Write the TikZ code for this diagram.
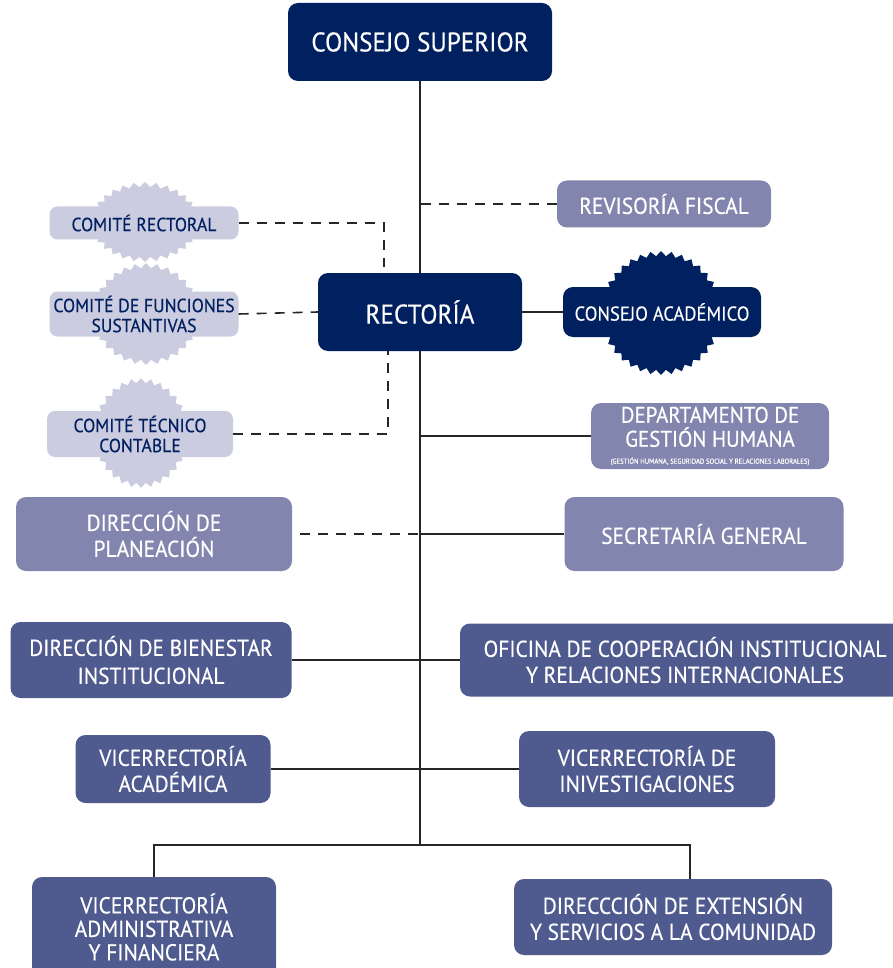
\documentclass[tikz,border=0pt]{standalone}
\usepackage{fontspec}
\setmainfont{PT Sans}[FakeStretch=0.93, FakeBold=0.35]
\usetikzlibrary{shapes.symbols,positioning,calc}

\definecolor{unavy}{RGB}{0,32,96}
\definecolor{ulight}{RGB}{204,204,224}
\definecolor{umid}{RGB}{130,134,174}
\definecolor{udark}{RGB}{79,90,143}

\tikzset{
    orgbox/.style={rounded corners=10pt, align=center, text=white, inner sep=0pt},
    navybox/.style={orgbox, fill=unavy, font=\fontsize{27}{30}\selectfont},
    midbox/.style={orgbox, fill=umid, font=\fontsize{23}{26}\selectfont},
    darkbox/.style={orgbox, fill=udark, font=\fontsize{23}{26}\selectfont},
    comite/.style={orgbox, fill=ulight, text=unavy, rounded corners=8pt, font=\fontsize{19}{20}\selectfont},
    burst/.style={starburst, random starburst=0, starburst points=30, starburst point height=5pt, inner sep=0pt},
    link/.style={line width=1.6pt, draw=black!85},
    dlink/.style={link, dash pattern=on 10pt off 8pt}
}

\begin{document}
\begin{tikzpicture}[x=1pt, y=-1pt]
    \useasboundingbox (0,0) rectangle (893,968);

    % Top level
    \node[navybox, minimum width=264pt, minimum height=78pt] (sup) at (420,42) {CONSEJO SUPERIOR};
    \node[midbox, minimum width=214pt, minimum height=47pt] (rev) at (664,204) {REVISORÍA FISCAL};
    \node[navybox, minimum width=204pt, minimum height=78pt] (rect) at (420,312) {RECTORÍA};

    % Consejo academico with burst behind
    \node[burst, fill=unavy, starburst points=36, minimum width=122pt, minimum height=124pt] (castar) at (661,313) {};
    \node[orgbox, fill=unavy, minimum width=198pt, minimum height=50pt, font=\fontsize{20}{20}\selectfont] (ca) at (662,312) {CONSEJO ACADÉMICO};

    % Comites
    \node[burst, fill=ulight, minimum width=110pt, minimum height=80pt] (crstar) at (145,222) {};
    \node[comite, minimum width=189pt, minimum height=33pt] (cr) at (144,223) {COMITÉ RECTORAL};
    \node[burst, fill=ulight, minimum width=108pt, minimum height=102pt] (cfstar) at (146,314) {};
    \node[comite, minimum width=189pt, minimum height=45pt] (cf) at (144,314) {COMITÉ DE FUNCIONES\\SUSTANTIVAS};
    \node[burst, fill=ulight, minimum width=96pt, minimum height=110pt] (ctstar) at (141,433) {};
    \node[comite, minimum width=186pt, minimum height=46pt] (ct) at (140,434) {COMITÉ TÉCNICO\\CONTABLE};

    % Second level
    \node[midbox, minimum width=238pt, minimum height=66pt, font=\fontsize{22.5}{24}\selectfont] (gh) at (710,436)
        {DEPARTAMENTO DE\\GESTIÓN HUMANA\\[-7pt]{\fontsize{7.2}{8}\selectfont (GESTIÓN HUMANA, SEGURIDAD SOCIAL Y RELACIONES LABORALES)}};
    \node[midbox, minimum width=276pt, minimum height=74pt] (pl) at (154,534) {DIRECCIÓN DE\\PLANEACIÓN};
    \node[midbox, minimum width=279pt, minimum height=74pt] (sg) at (704,534) {SECRETARÍA GENERAL};

    \node[darkbox, minimum width=281pt, minimum height=76pt, font=\fontsize{23}{28}\selectfont] (bien) at (151,660) {DIRECCIÓN DE BIENESTAR\\INSTITUCIONAL};
    \node[darkbox, minimum width=450pt, minimum height=73pt] (coop) at (685,660) {OFICINA DE COOPERACIÓN INSTITUCIONAL\\Y RELACIONES INTERNACIONALES};
    \node[darkbox, minimum width=195pt, minimum height=68pt] (va) at (173,769) {VICERRECTORÍA\\ACADÉMICA};
    \node[darkbox, minimum width=256pt, minimum height=76pt] (vi) at (647,769) {VICERRECTORÍA DE\\INIVESTIGACIONES};

    \node[darkbox, minimum width=244pt, minimum height=100pt, font=\fontsize{23}{23.5}\selectfont] (vaf) at (154,927) {VICERRECTORÍA\\ADMINISTRATIVA\\Y FINANCIERA};
    \node[darkbox, minimum width=318pt, minimum height=76pt] (ext) at (673,917) {DIRECCCIÓN DE EXTENSIÓN\\Y SERVICIOS A LA COMUNIDAD};

    % Helper points
    \coordinate (fork) at (420,845);
    \coordinate (extin) at ([xshift=17pt]ext.north);
    \coordinate (crdrop) at ([xshift=-36pt,yshift=6pt]rect.north);
    \coordinate (ctdrop) at ([xshift=-32pt]rect.south);
    \coordinate (plend) at ([xshift=8pt]pl.east);

    % Solid links
    \draw[link] (sup.south) -- (rect.north);
    \draw[link] (rect.south) -- (fork);
    \draw[link] (rect.east) -- (ca.west);
    \draw[link] (gh.west) -- (gh.west -| fork);
    \draw[link] (sg.west) -- (sg.west -| fork);
    \draw[link] (bien.east) -- (coop.west);
    \draw[link] (va.east) -- (vi.west);
    \draw[link] (vaf.north) |- (fork) -| (extin);

    % Dashed links
    \draw[dlink] (rev.west) -- (rev.west -| fork);
    \draw[dlink] (cr.east) -| (crdrop);
    \draw[dlink] (cf.east) -- (rect.west);
    \draw[dlink] (ct.east) -| (ctdrop);
    \draw[dlink] (plend) -- (plend -| fork);
\end{tikzpicture}
\end{document}
